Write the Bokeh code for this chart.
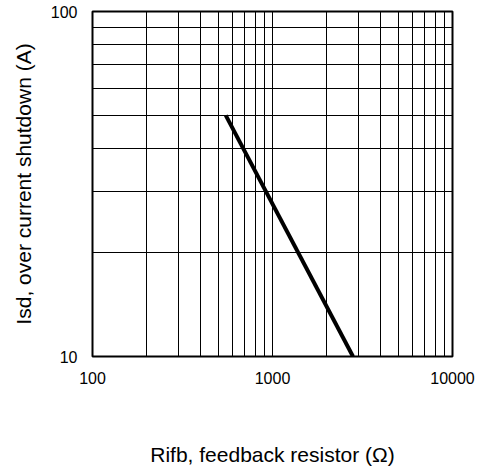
from bokeh.plotting import figure
from bokeh.models import FixedTicker, PrintfTickFormatter, Range1d
from bokeh.embed import file_html
from bokeh.resources import INLINE

# Data
rifb = [550, 2800]          # feedback resistor (ohm)
isd = [50, 10]              # over current shutdown (A)
x_major = [100, 1000, 10000]
x_minor = [200, 300, 400, 500, 600, 700, 800, 900,
           2000, 3000, 4000, 5000, 6000, 7000, 8000, 9000]
y_major = [10, 100]
y_minor = [20, 30, 40, 50, 60, 70, 80, 90]
x_title = "Rifb, feedback resistor (Ω)"
y_title = "Isd, over current shutdown (A)"

FONT = "Liberation Sans"

p = figure(width=483, height=472, x_axis_type="log", y_axis_type="log",
           x_range=Range1d(100, 10000), y_range=Range1d(10, 100),
           output_backend="svg", toolbar_location=None,
           min_border_left=92, min_border_right=31,
           min_border_top=11, min_border_bottom=116)

p.line(rifb, isd, line_color="black", line_width=4)

p.xaxis.ticker = FixedTicker(ticks=x_major, minor_ticks=x_minor)
p.yaxis.ticker = FixedTicker(ticks=y_major, minor_ticks=y_minor)
p.xaxis.formatter = PrintfTickFormatter(format="%d")
p.yaxis.formatter = PrintfTickFormatter(format="%d")

for ax in (p.xaxis, p.yaxis):
    ax.axis_line_color = None
    ax.major_tick_line_color = None
    ax.minor_tick_line_color = None
    ax.major_tick_out = 0
    ax.major_tick_in = 0
    ax.minor_tick_out = 0
    ax.minor_tick_in = 0
    ax.major_label_text_font = FONT
    ax.major_label_text_font_size = "16px"
    ax.major_label_text_color = "black"
    ax.axis_label_text_font = FONT
    ax.axis_label_text_font_size = "21px"
    ax.axis_label_text_font_style = "normal"
    ax.axis_label_text_color = "black"
p.xaxis.major_label_standoff = 15
p.yaxis.major_label_standoff = 15

p.xaxis.axis_label = x_title
p.yaxis.axis_label = y_title
p.xaxis.axis_label_standoff = 56
p.yaxis.axis_label_standoff = 13

for g in (p.xgrid, p.ygrid):
    g.grid_line_color = "black"
    g.grid_line_width = 1
    g.grid_line_alpha = 1.0
    g.minor_grid_line_color = "black"
    g.minor_grid_line_width = 1

p.outline_line_color = "black"
p.outline_line_width = 2
p.background_fill_color = "white"
p.border_fill_color = "white"

open("out.html", "w").write(file_html(p, INLINE))
